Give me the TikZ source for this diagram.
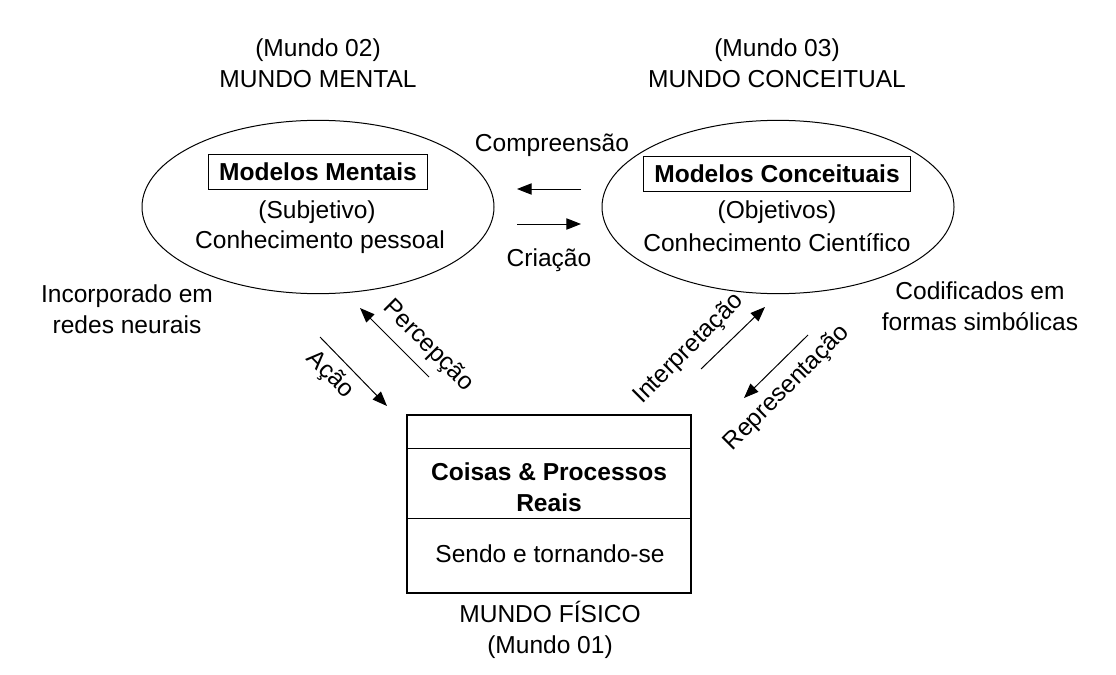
\documentclass[tikz,border=0pt]{standalone}
\usepackage{fontspec}
\setmainfont{Liberation Sans}
\usetikzlibrary{shapes.geometric,arrows.meta,positioning}

\tikzset{
  txt/.style={font=\fontsize{18.4}{23}\selectfont, align=center, inner sep=0pt},
  bold/.style={txt, font=\fontsize{18.4}{23}\selectfont\bfseries},
  titlebox/.style={bold, draw, line width=0.8pt, inner xsep=8pt, inner ysep=6.5pt},
  world/.style={draw, ellipse, line width=0.75pt, minimum width=264pt,
    minimum height=130pt, inner sep=0pt},
  flow/.style={line width=0.75pt, -{Triangle[length=11pt, width=8.5pt]}}
}

\begin{document}
\begin{tikzpicture}[x=0.75pt, y=-0.75pt]
  \useasboundingbox (0,0) rectangle (1116,674);

  % Worlds 2 and 3
  \node[world] (mental) at (318,207) {};
  \node[world] (conceitual) at (778,207) {};
  \node[txt] (t-mental) at (318,63) {(Mundo 02)\\MUNDO MENTAL};
  \node[txt] (t-conceitual) at (777,63) {(Mundo 03)\\MUNDO CONCEITUAL};

  % Contents of the ellipses
  \node[titlebox] (mm) at (318,172) {Modelos Mentais};
  \node[txt] (mm-sub) at (317,212) {(Subjetivo)};
  \node[txt] (mm-con) at (320,242) {Conhecimento pessoal};
  \node[titlebox] (mc) at (777,174) {Modelos Conceituais};
  \node[txt] (mc-sub) at (777,212) {(Objetivos)};
  \node[txt] (mc-con) at (777,243) {Conhecimento Científico};

  % Side notes
  \node[txt] (neural) at (127,309) {Incorporado em\\redes neurais};
  \node[txt] (simbol) at (980,306) {Codificados em\\formas simbólicas};

  % World 1 box
  \node[draw, line width=0.8pt, minimum width=213pt, minimum height=133.5pt,
    inner sep=0pt] (fisico) at (549,504) {};
  \draw[line width=0.8pt] ([yshift=-25.5pt]fisico.north west)
    -- ([yshift=-25.5pt]fisico.north east);
  \draw[line width=0.8pt] ([yshift=-78pt]fisico.north west)
    -- ([yshift=-78pt]fisico.north east);
  \node[bold] (coisas) at (549,487) {Coisas \& Processos\\Reais};
  \node[txt] (sendo) at (550,554) {Sendo e tornando-se};
  \node[txt] (t-fisico) at (550,630) {MUNDO FÍSICO\\(Mundo 01)};

  % Flow ends
  \coordinate (compr-a) at (581,189); \coordinate (compr-b) at (517,189);
  \coordinate (criac-a) at (517,224); \coordinate (criac-b) at (581,224);
  \coordinate (acao-a) at (320,337);  \coordinate (acao-b) at (387,406);
  \coordinate (perc-a) at (429,377);  \coordinate (perc-b) at (360,308);
  \coordinate (interp-a) at (701,369); \coordinate (interp-b) at (765,307);
  \coordinate (repr-a) at (808,335);  \coordinate (repr-b) at (744,398);

  % Flows
  \foreach \a in {compr, criac, acao, perc, interp, repr}{
    \draw[flow] (\a-a) -- (\a-b);
  }

  % Flow labels
  \node[txt] (l-compr) at (552,145) {Compreensão};
  \node[txt] (l-criac) at (549,260) {Criação};
  \node[txt, rotate=-45] (l-acao) at (330,375) {Ação};
  \node[txt, rotate=-45] (l-perc) at (428,346) {Percepção};
  \node[txt, rotate=45] (l-interp) at (689,349) {Interpretação};
  \node[txt, rotate=45] (l-repr) at (787,388) {Representação};
\end{tikzpicture}
\end{document}
